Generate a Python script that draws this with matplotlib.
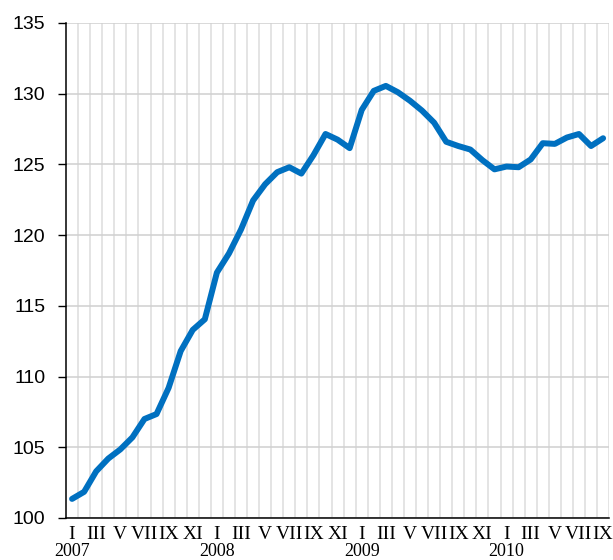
import numpy as np
import matplotlib.pyplot as plt
from matplotlib.transforms import blended_transform_factory

# monthly index, January 2007 - September 2010
years = ['2007', '2008', '2009', '2010']
months = ['I', 'II', 'III', 'IV', 'V', 'VI', 'VII', 'VIII', 'IX', 'X', 'XI', 'XII']
values = [101.35, 101.85, 103.3, 104.2, 104.85, 105.7, 107.0, 107.35, 109.2, 111.8, 113.3, 114.05,
          117.35, 118.7, 120.4, 122.45, 123.6, 124.45, 124.8, 124.35, 125.65, 127.15, 126.75, 126.15,
          128.85, 130.2, 130.55, 130.1, 129.5, 128.8, 127.95, 126.6, 126.3, 126.05, 125.3, 124.65,
          124.85, 124.8, 125.35, 126.5, 126.45, 126.9, 127.15, 126.3, 126.85]

n = len(values)
x = np.arange(n)

fig = plt.figure(figsize=(6.13, 5.6), dpi=100)
ax = fig.add_axes([0.1077, 0.075, 0.886, 0.884])

ax.plot(x, values, color='#0070c0', lw=4.3, solid_joinstyle='round', solid_capstyle='round', zorder=3)

ax.set_xlim(-0.5, n - 0.5)
ax.set_ylim(100, 135)
ax.set_yticks(np.arange(100, 136, 5))

# labels on every other month, gridlines between months
ax.set_xticks(x[::2])
ax.set_xticklabels([months[i % 12] for i in x[::2]], family='Liberation Serif', fontsize=14)
ax.set_xticks(np.arange(0.5, n, 1), minor=True)
ax.tick_params(axis='x', which='both', length=0, pad=6)
ax.tick_params(axis='y', length=6, width=1, pad=9, labelsize=14)
for lab in ax.get_yticklabels():
    lab.set_family('Liberation Sans')

ax.grid(axis='x', which='minor', color='#dcdcdc', lw=1.1)
ax.grid(axis='y', which='major', color='#d0d0d0', lw=1.1)
ax.set_axisbelow(True)

for s in ['top', 'right']:
    ax.spines[s].set_visible(False)
ax.spines['left'].set_linewidth(1.1)
ax.spines['bottom'].set_linewidth(1.1)

trans = blended_transform_factory(ax.transData, ax.transAxes)
for k, yr in enumerate(years):
    ax.text(12 * k, -0.068, yr, transform=trans, ha='center', va='center',
            family='Liberation Serif', fontsize=13)

fig.savefig('out.png', dpi=100)
